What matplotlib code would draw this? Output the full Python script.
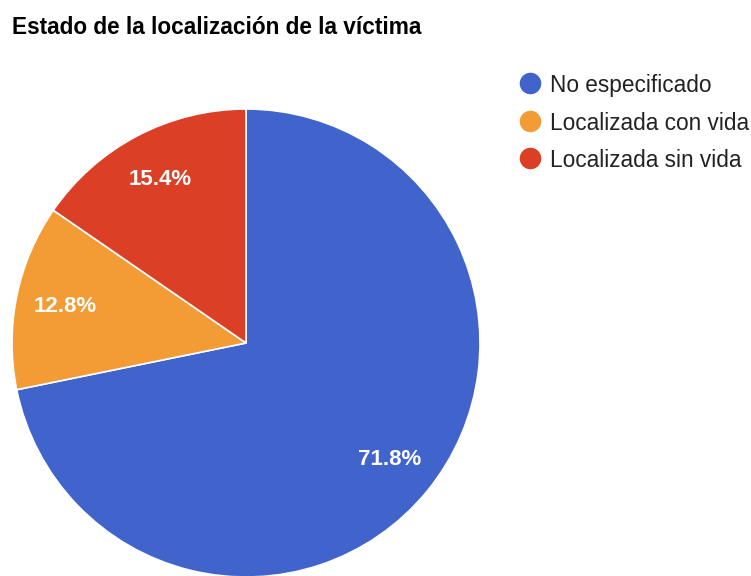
import matplotlib.pyplot as plt
from matplotlib.lines import Line2D

plt.rcParams['font.family'] = ['Liberation Sans', 'DejaVu Sans']

labels = ['No especificado', 'Localizada con vida', 'Localizada sin vida']
values = [71.8, 12.8, 15.4]
colors = ['#4163CC', '#F39C35', '#DB3F26']

W, H = 751, 576
fig = plt.figure(figsize=(W / 100, H / 100), dpi=100)

# pie area in pixels: left 12, top 109, diameter 468
ax = fig.add_axes([12 / W, (H - 109 - 468) / H, 468 / W, 468 / H])
wedges, texts, autotexts = ax.pie(
    values, colors=colors, startangle=90, counterclock=False,
    autopct='%.1f%%', pctdistance=0.79, radius=1,
    wedgeprops=dict(edgecolor='white', linewidth=1.2),
    textprops=dict(color='white', fontsize=16, fontweight='bold'))
ax.set_xlim(-1, 1)
ax.set_ylim(-1, 1)
ax.set_aspect('equal')
ax.axis('off')

fig.text(12 / W, 1 - 27 / H, 'Estado de la localización de la víctima',
         fontsize=16.3, fontweight='bold', color='black', va='center')

# legend drawn by hand: circle + label per row
for i, (lab, c) in enumerate(zip(labels, colors)):
    y = 1 - (83 + i * 37.5) / H
    fig.add_artist(Line2D([530 / W], [y], transform=fig.transFigure,
                          marker='o', markersize=14.5, linestyle='',
                          markerfacecolor=c, markeredgecolor=c))
    fig.text(550 / W, y, lab, fontsize=16.3, color='#222222',
             va='center_baseline')

fig.savefig('out.png', dpi=100)
